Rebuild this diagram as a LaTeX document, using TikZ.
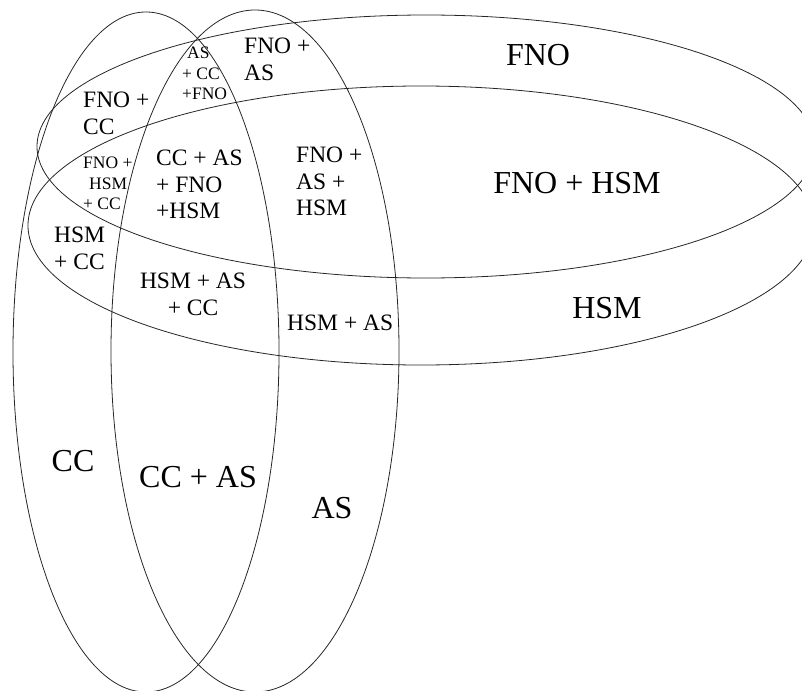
\documentclass[tikz,border=0pt]{standalone}
\usepackage{fontspec}
\setmainfont{Liberation Serif}
\tikzset{
  setline/.style={line width=0.8pt, draw=black!85},
  big/.style={inner sep=0pt, font=\fontsize{32}{36}\selectfont},
  mid/.style={inner sep=0pt, anchor=north west, align=left, font=\fontsize{23.5}{26.5}\selectfont},
  small/.style={inner sep=0pt, anchor=north west, align=left, font=\fontsize{17.5}{20.5}\selectfont},
}
\begin{document}
\begin{tikzpicture}[x=1pt, y=-1pt]
  \useasboundingbox (0,0) rectangle (802,690);
  % the four sets
  \draw[setline] (146,352) ellipse [x radius=133pt, y radius=340pt];   % CC
  \draw[setline] (255,351) ellipse [x radius=144pt, y radius=341pt];   % AS
  \draw[setline] (426,146.5) ellipse [x radius=389pt, y radius=131.5pt]; % FNO
  \draw[setline] (421,225.5) ellipse [x radius=393pt, y radius=139.5pt]; % HSM

  % single-set and outer labels
  \node[big] (fno)    at (538,55)  {FNO};
  \node[big] (fnohsm) at (577,183) {FNO + HSM};
  \node[big] (hsm)    at (607,308) {HSM};
  \node[big] (cc)     at (73,461)  {CC};
  \node[big] (ccas)   at (198,477) {CC + AS};
  \node[big] (as)     at (332,508) {AS};

  % overlap labels
  \node[mid]   (fnoas)    at (244,38)  {FNO +\\AS};
  \node[small] (ascc)     at (182,47)  {\hspace*{5pt}AS\\+ CC\\+FNO};
  \node[mid]   (fnocc)    at (83,92)   {FNO +\\CC};
  \node[small] (fnohsmcc) at (83,157)  {FNO +\\\hspace*{6pt}HSM\\+ CC};
  \node[mid]   (all)      at (156,150) {CC + AS\\+ FNO\\+HSM};
  \node[mid]   (fnoashsm) at (296,147) {FNO +\\AS +\\HSM};
  \node[mid]   (hsmcc)    at (54,227)  {HSM\\+ CC};
  \node[mid, anchor=north, align=center] (hsmascc) at (193,273) {HSM + AS\\+ CC};
  \node[mid]   (hsmas)    at (287,315) {HSM + AS};
\end{tikzpicture}
\end{document}
